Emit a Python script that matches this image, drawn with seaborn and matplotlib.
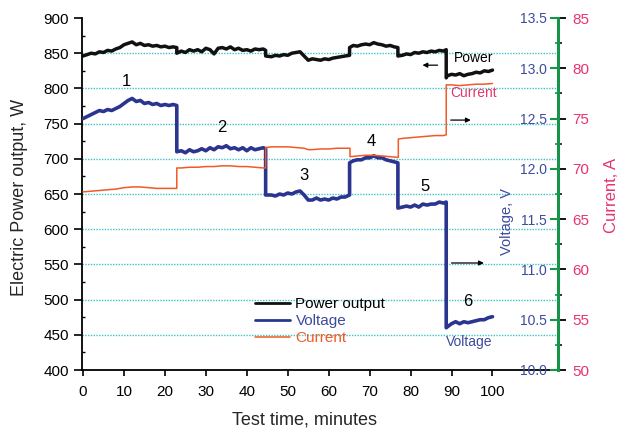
import matplotlib
matplotlib.use("Agg")
import matplotlib.pyplot as plt
from matplotlib.ticker import MultipleLocator, FormatStrFormatter
import seaborn as sns

# ---------------- data ----------------
P_TIME = [0, 1, 2, 3, 4, 5, 6, 7, 8, 9, 10, 11, 12, 13, 14, 15, 16, 17, 18, 19, 20, 21, 22, 22.9,
          22.9, 24, 25, 26, 27, 28, 29, 30, 31, 32, 33, 34, 35, 36, 37, 38, 39, 40, 41, 42, 43, 44, 44.6,
          44.6, 46, 47, 48, 49, 50, 51, 52, 53, 54, 55, 56, 57, 58, 59, 60, 61, 62, 63, 64, 65.1,
          65.1, 66, 67, 68, 69, 70, 71, 72, 73, 74, 75, 76, 76.9,
          76.9, 78, 79, 80, 81, 82, 83, 84, 85, 86, 87, 88, 88.7,
          88.7, 89, 90, 91, 92, 93, 94, 95, 96, 97, 98, 99, 100]
POWER = [846, 848, 850, 849, 852, 851, 854, 853, 856, 858, 862, 864, 866, 862, 864, 861, 862, 860, 861, 859, 860, 858, 859, 858,
         850, 853, 851, 855, 853, 855, 852, 857, 855, 849, 857, 858, 856, 859, 855, 857, 854, 855, 853, 856, 855, 856, 854,
         846, 845, 847, 846, 848, 847, 850, 851, 852, 846, 840, 842, 841, 840, 842, 841, 843, 844, 845, 846, 847,
         858, 861, 860, 862, 863, 862, 865, 863, 862, 860, 861, 859, 858,
         846, 847, 849, 848, 851, 850, 852, 851, 853, 852, 854, 853, 855,
         815, 818, 820, 819, 821, 818, 820, 821, 823, 822, 825, 824, 826]

V_TIME = P_TIME
VOLTAGE = [12.50, 12.52, 12.54, 12.56, 12.58, 12.57, 12.59, 12.58, 12.60, 12.62, 12.65, 12.68, 12.70, 12.67, 12.68, 12.65, 12.66, 12.64, 12.65, 12.63, 12.64, 12.63, 12.64, 12.63,
           12.17, 12.18, 12.16, 12.19, 12.17, 12.18, 12.20, 12.18, 12.21, 12.19, 12.22, 12.21, 12.23, 12.20, 12.21, 12.19, 12.21, 12.18, 12.21, 12.19, 12.20, 12.21, 12.20,
           11.74, 11.74, 11.73, 11.75, 11.74, 11.76, 11.75, 11.77, 11.78, 11.74, 11.69, 11.69, 11.71, 11.69, 11.70, 11.69, 11.71, 11.70, 11.72, 11.72, 11.74,
           12.06, 12.08, 12.09, 12.09, 12.11, 12.11, 12.13, 12.11, 12.11, 12.09, 12.08, 12.07, 12.06,
           11.61, 11.62, 11.63, 11.62, 11.64, 11.62, 11.65, 11.64, 11.65, 11.65, 11.67, 11.66, 11.67,
           10.42, 10.43, 10.46, 10.48, 10.46, 10.48, 10.47, 10.48, 10.49, 10.50, 10.50, 10.52, 10.53]

I_TIME = [0, 2, 4, 6, 8, 10, 12, 14, 16, 18, 20, 22, 22.9,
          22.9, 24, 26, 28, 30, 32, 34, 36, 38, 40, 42, 44, 44.6,
          44.6, 46, 48, 50, 52, 54, 55, 56, 58, 60, 62, 64, 65.2,
          65.2, 67, 69, 71, 73, 75, 77,
          77, 78, 80, 82, 84, 86, 88, 88.7,
          88.7, 90, 92, 94, 96, 98, 100]
CURRENT = [67.71, 67.78, 67.85, 67.92, 67.99, 68.13, 68.20, 68.20, 68.13, 68.06, 68.06, 68.06, 68.06,
           70.09, 70.09, 70.16, 70.16, 70.23, 70.23, 70.30, 70.30, 70.23, 70.23, 70.16, 70.09, 70.09,
           72.12, 72.19, 72.19, 72.19, 72.12, 72.05, 71.91, 71.91, 71.98, 71.98, 72.05, 72.05, 72.05,
           71.21, 71.28, 71.35, 71.35, 71.28, 71.21, 71.14,
           72.96, 73.03, 73.10, 73.17, 73.24, 73.31, 73.31, 73.38,
           78.35, 78.35, 78.28, 78.35, 78.42, 78.42, 78.49]

X_TICKS = [0, 10, 20, 30, 40, 50, 60, 70, 80, 90, 100]
P_TICKS = [400, 450, 500, 550, 600, 650, 700, 750, 800, 850, 900]
V_TICKS = [10.0, 10.5, 11.0, 11.5, 12.0, 12.5, 13.0, 13.5]
I_TICKS = [50, 55, 60, 65, 70, 75, 80, 85]
LEGEND_LABELS = ["Power output", "Voltage", "Current"]

STAGE_LABELS = ["1", "2", "3", "4", "5", "6"]
STAGE_T = [10.7, 33.8, 54.0, 70.4, 83.6, 93.9]
STAGE_W = [810, 744, 676, 725, 660, 498]

# ---------------- style ----------------
sns.set_style("ticks")
plt.rcParams["font.family"] = ["Liberation Sans", "DejaVu Sans"]

BLACK = "#111111"
BLUE = "#2b3590"
VBLUE = "#3d4a9e"
ORANGE = "#f15a26"
PINK = "#e8336d"
GREEN = "#17934a"
GRID = "#3cc3c3"

fig = plt.figure(figsize=(6.24, 4.33), dpi=100)
ax = fig.add_axes([82 / 624, 63 / 433, 476 / 624, 352 / 433])
ax2 = ax.twinx()
ax3 = ax.twinx()

sns.lineplot(x=P_TIME, y=POWER, ax=ax, color=BLACK, lw=2.5, estimator=None, sort=False)
sns.lineplot(x=V_TIME, y=VOLTAGE, ax=ax2, color=BLUE, lw=2.6, estimator=None, sort=False)
sns.lineplot(x=I_TIME, y=CURRENT, ax=ax3, color=ORANGE, lw=1.1, estimator=None, sort=False)

ax.set_xlim(-0.25, 116)
ax.set_ylim(400, 900)
ax2.set_ylim(10, 13.5)
ax3.set_ylim(50, 85)

# main axes
ax.set_xticks(X_TICKS)
ax.set_yticks(P_TICKS)
ax.yaxis.set_minor_locator(MultipleLocator(25))
ax.tick_params(axis="x", direction="out", length=4.5, width=1.2, pad=6, labelsize=11, colors="black")
ax.tick_params(axis="y", which="major", direction="out", length=5.5, width=1.2, pad=4, labelsize=11, colors="black")
ax.tick_params(axis="y", which="minor", direction="in", length=2.5, width=1.0, colors="black")
for s in ["top", "right"]:
    ax.spines[s].set_visible(False)
for s in ["left", "bottom"]:
    ax.spines[s].set_color("black")
    ax.spines[s].set_linewidth(1.3)
ax.grid(axis="y", which="major", ls=(0, (1, 1)), color=GRID, lw=1.0)
gl = ax.yaxis.get_gridlines()
gl[0].set_visible(False)
gl[-1].set_visible(False)
ax.set_xlabel("Test time, minutes", fontsize=13)
ax.xaxis.set_label_coords((304 - 82) / 476, -0.118)
ax.set_ylabel("Electric Power output, W", fontsize=13)
ax.yaxis.set_label_coords(-0.113, (370 - 197) / 352)

# voltage axis (labels inside, left of the shared spine)
for s in ["top", "left", "bottom", "right"]:
    ax2.spines[s].set_visible(False)
ax2.set_yticks(V_TICKS)
ax2.yaxis.set_major_formatter(FormatStrFormatter("%.1f"))
ax2.yaxis.set_minor_locator(MultipleLocator(0.25))
ax2.tick_params(axis="y", which="major", direction="in", length=5.5, width=1.5, color=GREEN,
                labelcolor=VBLUE, labelsize=10, pad=-8)
ax2.tick_params(axis="y", which="minor", direction="in", length=2.5, width=1.2, color=GREEN)
for lab in ax2.get_yticklabels():
    lab.set_horizontalalignment("right")
ax2.set_ylabel("Voltage, V", fontsize=10.5, color=VBLUE)
ax2.yaxis.label.set_verticalalignment("center")
ax2.yaxis.set_label_coords((507 - 82) / 476, (370 - 221) / 352)

# current axis
for s in ["top", "left", "bottom"]:
    ax3.spines[s].set_visible(False)
ax3.spines["right"].set_color(GREEN)
ax3.spines["right"].set_linewidth(2.2)
ax3.set_yticks(I_TICKS)
ax3.yaxis.set_minor_locator(MultipleLocator(2.5))
ax3.tick_params(axis="y", which="major", direction="out", length=5.8, width=1.3, color="black",
                labelcolor=PINK, labelsize=11, pad=4.5)
ax3.tick_params(axis="y", which="minor", direction="out", length=3, width=1.1, color="black")
ax3.set_ylabel("Current, A", fontsize=12, color=PINK)
ax3.yaxis.label.set_verticalalignment("center")
ax3.yaxis.set_label_coords((612 - 82) / 476, (370 - 195) / 352)

# stage numbers
for lab, t, w in zip(STAGE_LABELS, STAGE_T, STAGE_W):
    ax.text(t, w, lab, fontsize=12, ha="center", va="center", color="black")

# series tags and arrows
ax.text(95.3, 843, "Power", fontsize=10, ha="center", va="center", color="black")
ax.text(95.4, 793, "Current", fontsize=10, ha="center", va="center", color=PINK)
ax.text(94.4, 440, "Voltage", fontsize=10, ha="center", va="center", color=VBLUE)
arrow = dict(arrowstyle="-|>", color="black", lw=0.9, mutation_scale=7, shrinkA=0, shrinkB=0)
ax.annotate("", xy=(82.9, 833), xytext=(86.6, 833), arrowprops=arrow)
ax.annotate("", xy=(94.7, 755), xytext=(89.8, 755), arrowprops=arrow)
ax.annotate("", xy=(97.9, 552), xytext=(90.0, 552), arrowprops=arrow)

# legend
handles = [ax.lines[0], ax2.lines[0], ax3.lines[0]]
leg = ax3.legend(handles, LEGEND_LABELS, loc="upper left",
                 bbox_to_anchor=(255 / 624, 1 - 297 / 433), bbox_transform=fig.transFigure,
                 frameon=False, borderpad=0, borderaxespad=0, handlelength=2.3,
                 handletextpad=0.35, labelspacing=0.2, fontsize=11)
for txt, c, w in zip(leg.get_texts(), ["black", VBLUE, ORANGE], [2.0, 2.0, 1.1]):
    txt.set_color(c)
for h, w in zip(leg.legend_handles, [2.0, 2.0, 1.1]):
    h.set_linewidth(w)

fig.savefig("out.png", dpi=100)
